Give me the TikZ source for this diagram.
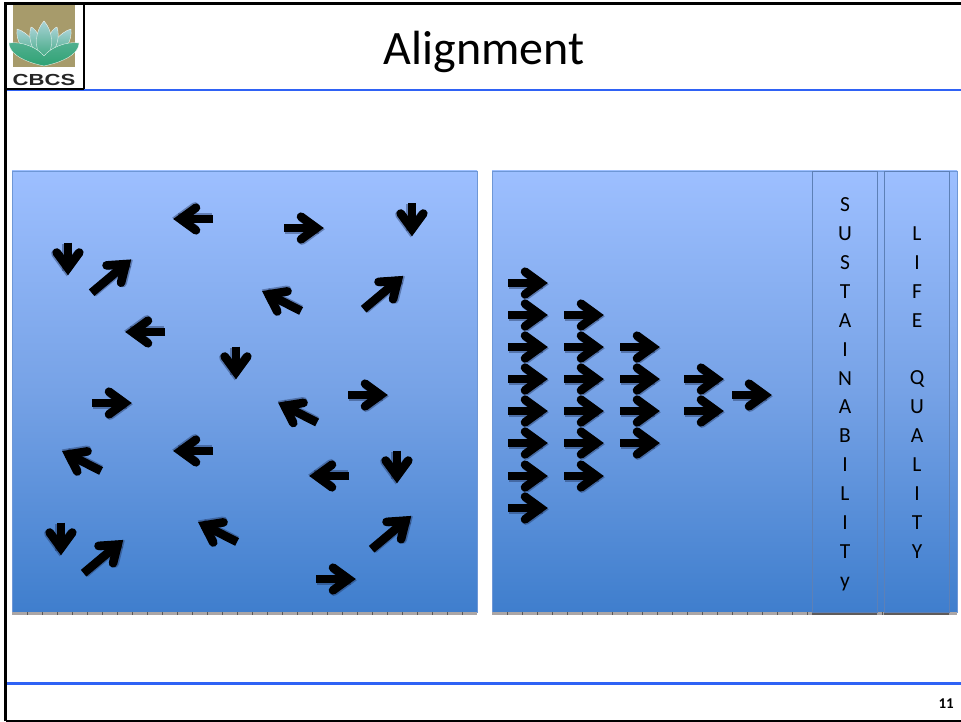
\documentclass[tikz,border=0pt]{standalone}
\usepackage{fontspec}
\setmainfont{Carlito}
\newfontfamily\headfont{Liberation Sans}
\definecolor{rulb}{HTML}{2F62F5}
\definecolor{ptop}{HTML}{9DBFFF}
\definecolor{pmid}{HTML}{76A2E6}
\definecolor{pbot}{HTML}{3F7ECD}
\definecolor{pedge}{HTML}{6E97D6}
\definecolor{tickbg}{HTML}{ABA6A6}
\definecolor{olive}{HTML}{A79B6B}
\definecolor{lotusg}{HTML}{2FA274}
\definecolor{lotusp}{HTML}{A9D2D6}
\definecolor{shadowcol}{HTML}{1A2A50}
\tikzset{
  panel/.style={draw=pedge,line width=.8pt,top color=ptop,bottom color=pbot,middle color=pmid},
  colbox/.style={draw=pedge!85!black,line width=.9pt,fill=none},
  coltext/.style={font=\fontsize{21.5}{28.9}\selectfont,align=center,text=black,inner sep=0pt,anchor=north},
  petal/.style={bottom color=lotusg,top color=lotusp,draw=white,line width=.3pt},
  lowpetal/.style={bottom color=lotusg,top color=lotusg!70!lotusp,draw=white,line width=.3pt},
  shadowc/.style={draw=shadowcol,opacity=.4},
  arr/.pic={
    \begin{scope}[line width=8.6pt]
      \draw[shadowc,shift={(1,1.3)}] (0,0)--(\arrlen-6,0);
      \draw[shadowc,shift={(1,1.3)},line cap=round,miter limit=10] (\arrlen-23,-11.3)--(\arrlen-7.5,0)--(\arrlen-23,11.3);
      \draw[black] (0,0)--(\arrlen-6,0);
      \draw[black,line cap=round,miter limit=10] (\arrlen-23,-11.3)--(\arrlen-7.5,0)--(\arrlen-23,11.3);
    \end{scope}
  },
}
\newcommand{\arrlen}{40}
\newcommand{\barticks}[1]{%
  \fill[tickbg] (#1,612.4) rectangle ({#1+465},615);
  \foreach \k in {1,...,30}{\draw[black!65,line width=.8pt] ({#1+\k*15},612.4)--({#1+\k*15},615);}
}
\begin{document}
\begin{tikzpicture}[x=1pt,y=-1pt]
\useasboundingbox (0,0) rectangle (961,722);
\fill[white] (0,0) rectangle (961,722);
% panels
\path[panel] (12,171) rectangle (477,612);
\path[panel] (492,171) rectangle (957,612);
\barticks{12}
\barticks{492}
\fill[tickbg!55!black] (812,612.4) rectangle (877,615);
\fill[tickbg!55!black] (884,612.4) rectangle (949,615);
\draw[colbox] (812,171) rectangle (877,612);
\draw[colbox] (884,171) rectangle (949,612);
% column text
\node[coltext] (sust) at (845,197.5) {S\\U\\S\\T\\A\\I\\N\\A\\B\\I\\L\\I\\T\\y};
\node[coltext] (life) at (917,226.5) {L\\I\\F\\E\\[28.9pt]Q\\U\\A\\L\\I\\T\\Y};
% scattered arrows: x, y of centre, direction, length
\foreach \x/\y/\a/\l in {
 193/219/180/40, 304/228/0/40, 412/220/-90/33, 68/259/-90/33, 111.5/276/40/52,
 281.5/301/-207/44, 383.5/292.5/40/52, 145/332/180/40, 236/363/-90/33,
 112/403/0/40, 297.5/412.5/-207/44, 368/395/0/40, 81.5/461/-207/44,
 193/451/180/40, 329/476/180/40, 397/467/-90/33, 61/539/-90/33,
 103.5/556.5/40/52, 217.5/532/-207/44, 391.5/532.5/40/52, 336/579/0/40}
{ \renewcommand{\arrlen}{\l}
  \pic[shift={(\x,\y)},rotate=\a,xshift={-\l/2*1pt}] {arr}; }
% aligned arrows
\renewcommand{\arrlen}{40}
\foreach \x/\y in {
 528/283,528/315,528/347,528/379,528/411,528/443,528/476,528/508,
 584/315,584/347,584/379,584/411,584/443,584/476,
 640/347,640/379,640/411,640/443,
 704/379,704/411,752/395}
{ \pic[shift={(\x-20,\y)}] {arr}; }
% frame and rules
\draw[rulb,line width=2.4pt] (5,90)--(961,90);
\draw[rulb,line width=3pt] (5,683.5)--(961,683.5);
\draw[black,line width=2.4pt] (5.5,721)--(5.5,3.5)--(961,3.5);
\draw[black,line width=1.4pt] (5.5,721)--(961,721);
% logo
\fill[olive] (13,5) rectangle (75,67);
\path[petal] (44,64) .. controls (20,52) and (16,40) .. (17,29) .. controls (28,32) and (40,46) .. (44,64);
\path[petal] (44,64) .. controls (68,52) and (72,40) .. (71,29) .. controls (60,32) and (48,46) .. (44,64);
\path[petal] (44,64) .. controls (30,50) and (28,36) .. (31,27) .. controls (36,28) and (46,44) .. (44,64);
\path[petal] (44,64) .. controls (58,50) and (60,36) .. (57,27) .. controls (52,28) and (42,44) .. (44,64);
\path[petal] (44,64) .. controls (32,46) and (36,30) .. (44,21) .. controls (52,30) and (56,46) .. (44,64);
\path[lowpetal] (44,66) .. controls (16,60) and (9,50) .. (9,43) .. controls (22,41) and (38,48) .. (44,56) .. controls (50,48) and (66,41) .. (79,43) .. controls (79,50) and (72,60) .. (44,66);
\node[font=\headfont\bfseries\fontsize{16}{16}\selectfont,text=black!85,inner sep=0pt,xscale=1.38] (cbcs) at (44,79.5) {CBCS};
\draw[black,line width=1.2pt] (84,4)--(84,89.5);
\draw[black,line width=2pt] (5,89)--(84,89);
% title and page number
\node[font=\fontsize{48}{48}\selectfont,inner sep=0pt,anchor=base] (title) at (484,64.5) {Alignment};
\node[font=\bfseries\fontsize{15}{15}\selectfont,inner sep=0pt,anchor=base east] (pnum) at (954,708) {11};
\end{tikzpicture}
\end{document}
